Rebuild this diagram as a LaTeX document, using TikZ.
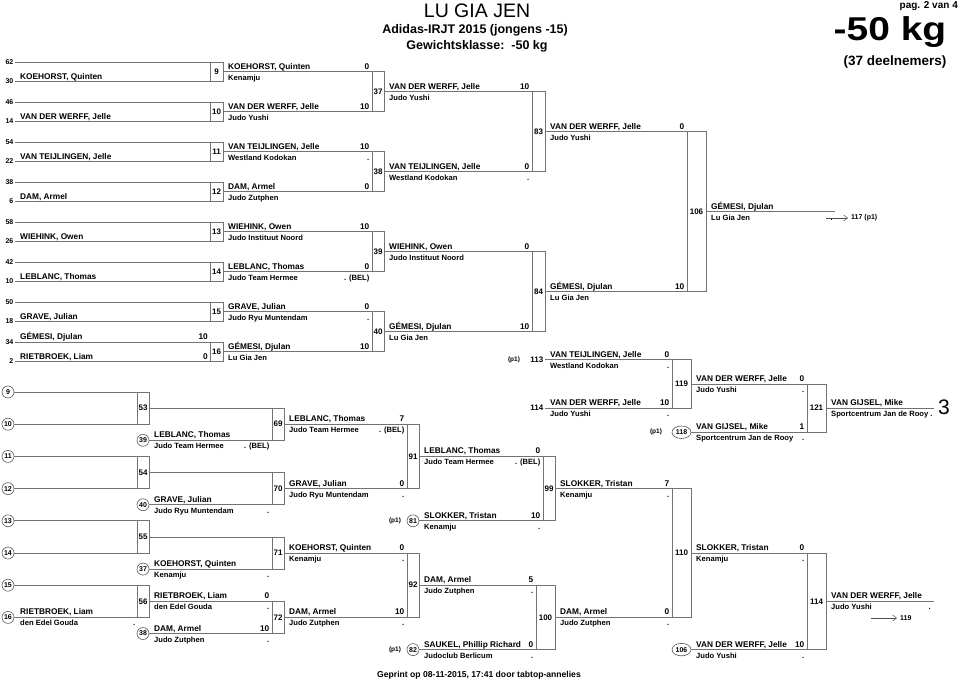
\documentclass[tikz,border=0pt]{standalone}
\usepackage{fontspec}
\setmainfont{Liberation Sans}
\usetikzlibrary{arrows.meta,shapes.geometric}
\tikzset{
  ln/.style={draw=black!55, line width=0.75pt},
  nm/.style={font=\fontsize{8.3}{9}\selectfont\bfseries, anchor=base west, inner sep=0pt},
  cl/.style={font=\fontsize{7.6}{9}\selectfont\bfseries, anchor=base west, inner sep=0pt},
  sc/.style={font=\fontsize{8.3}{9}\selectfont\bfseries, anchor=base east, inner sep=0pt},
  dt/.style={font=\fontsize{7.6}{9}\selectfont\bfseries, anchor=base east, inner sep=0pt},
  mn/.style={font=\fontsize{8}{9}\selectfont\bfseries, inner sep=0pt},
  sd/.style={font=\fontsize{7}{8}\selectfont\bfseries, anchor=east, inner sep=0pt},
  cn/.style={circle, draw=black!65, line width=0.6pt, minimum size=12pt, inner sep=0pt, font=\fontsize{7}{8}\selectfont\bfseries},
  ov/.style={ellipse, draw=black!65, line width=0.6pt, minimum width=19pt, minimum height=12.5pt, inner sep=0pt, font=\fontsize{7}{8}\selectfont\bfseries},
  pp/.style={font=\fontsize{6.5}{8}\selectfont\bfseries, inner sep=0pt},
  arr/.style={draw=black!70, line width=0.5pt, -{Straight Barb[length=4pt,width=6pt]}},
}
% x0, box left, box right, y, name, club, score, dot
\newcommand\BEnt[8]{%
  \draw[ln] (#1,#4) -- (#3,#4);
  \node[nm] at ({#1+5},{#4-2.5}) {#5};
  \node[cl] at ({#1+5},{#4+8.5}) {#6};
  \node[sc] at ({#2-2.5},{#4-2.5}) {#7};
  \node[dt] at ({#2-2.5},{#4+8.5}) {#8};
}
\newcommand\BBox[5]{%
  \draw[ln] (#1,#3) rectangle (#2,#4);
  \node[mn] at ({(#1+#2)/2},{(#3+#4)/2}) {#5};
}
% top, seedT, seedB, nameT, nameB, scoreT, scoreB, label
\newcommand\BRone[8]{%
  \draw[ln] (15,#1) -- (223,#1);
  \draw[ln] (15,{#1+19.5}) -- (223,{#1+19.5});
  \draw[ln] (210,#1) -- (210,{#1+19.5});
  \draw[ln] (223,#1) -- (223,{#1+19.5});
  \node[sd] at (13.5,#1) {#2};
  \node[sd] at (13.5,{#1+19.5}) {#3};
  \node[nm] at (20,{#1-2.5}) {#4};
  \node[nm] at (20,{#1+17}) {#5};
  \node[sc] at (208,{#1-2.5}) {#6};
  \node[sc] at (208,{#1+17}) {#7};
  \node[mn] at (216.5,{#1+9.75}) {#8};
}
\begin{document}
\begin{tikzpicture}[x=1pt,y=-1pt]
\fill[white] (0,0) rectangle (960,683);
\useasboundingbox (0,0) rectangle (960,683);

% header
\node[font=\fontsize{19.5}{22}\selectfont] (title) at (477,11) {LU GIA JEN};
\node[font=\fontsize{12.5}{14}\selectfont\bfseries] (sub1) at (475,30) {Adidas-IRJT 2015 (jongens -15)};
\node[font=\fontsize{12.5}{14}\selectfont\bfseries] (sub2) at (477,46) {Gewichtsklasse:\ \ -50 kg};
\node[font=\fontsize{10}{12}\selectfont\bfseries, anchor=east, inner sep=0pt] (pag) at (958,6) {pag. 2 van 4};
\node[font=\fontsize{33}{36}\selectfont\bfseries, inner sep=0pt] (kg) at (890,32) {\scalebox{1.18}[1]{-50 kg}};
\node[font=\fontsize{13.5}{15}\selectfont\bfseries, inner sep=0pt] (deel) at (895,62) {(37 deelnemers)};
\node[font=\fontsize{8.6}{10}\selectfont\bfseries] (foot) at (479,675) {Geprint op 08-11-2015, 17:41 door tabtop-annelies};

% ===== main bracket, round 1
\BRone{62}{62}{30}{}{KOEHORST, Quinten}{}{}{9}
\BRone{102}{46}{14}{}{VAN DER WERFF, Jelle}{}{}{10}
\BRone{142}{54}{22}{}{VAN TEIJLINGEN, Jelle}{}{}{11}
\BRone{182}{38}{6}{}{DAM, Armel}{}{}{12}
\BRone{222}{58}{26}{}{WIEHINK, Owen}{}{}{13}
\BRone{262}{42}{10}{}{LEBLANC, Thomas}{}{}{14}
\BRone{302}{50}{18}{}{GRAVE, Julian}{}{}{15}
\BRone{342}{34}{2}{GÉMESI, Djulan}{RIETBROEK, Liam}{10}{0}{16}

% round 2
\BEnt{223}{372}{384}{71.75}{KOEHORST, Quinten}{Kenamju}{0}{}
\BEnt{223}{372}{384}{111.75}{VAN DER WERFF, Jelle}{Judo Yushi}{10}{}
\BEnt{223}{372}{384}{151.75}{VAN TEIJLINGEN, Jelle}{Westland Kodokan}{10}{.}
\BEnt{223}{372}{384}{191.75}{DAM, Armel}{Judo Zutphen}{0}{}
\BEnt{223}{372}{384}{231.75}{WIEHINK, Owen}{Judo Instituut Noord}{10}{}
\BEnt{223}{372}{384}{271.75}{LEBLANC, Thomas}{Judo Team Hermee}{0}{. (BEL)}
\BEnt{223}{372}{384}{311.75}{GRAVE, Julian}{Judo Ryu Muntendam}{0}{.}
\BEnt{223}{372}{384}{351.75}{GÉMESI, Djulan}{Lu Gia Jen}{10}{}
\BBox{372}{384}{71.75}{111.75}{37}
\BBox{372}{384}{151.75}{191.75}{38}
\BBox{372}{384}{231.75}{271.75}{39}
\BBox{372}{384}{311.75}{351.75}{40}

% round 3
\BEnt{384}{532}{545}{91.75}{VAN DER WERFF, Jelle}{Judo Yushi}{10}{}
\BEnt{384}{532}{545}{171.75}{VAN TEIJLINGEN, Jelle}{Westland Kodokan}{0}{.}
\BEnt{384}{532}{545}{251.75}{WIEHINK, Owen}{Judo Instituut Noord}{0}{}
\BEnt{384}{532}{545}{331.75}{GÉMESI, Djulan}{Lu Gia Jen}{10}{}
\BBox{532}{545}{91.75}{171.75}{83}
\BBox{532}{545}{251.75}{331.75}{84}

% round 4
\BEnt{545}{687}{706}{131.75}{VAN DER WERFF, Jelle}{Judo Yushi}{0}{}
\BEnt{545}{687}{706}{291.75}{GÉMESI, Djulan}{Lu Gia Jen}{10}{}
\BBox{687}{706}{131.75}{291.75}{106}
\BEnt{706}{835.5}{835}{211.75}{GÉMESI, Djulan}{Lu Gia Jen}{}{.}
\coordinate (a117s) at (826,218);
\coordinate (a117e) at (848,218);
\draw[arr] (a117s) -- (a117e);
\node[pp, anchor=west, font=\fontsize{7}{8}\selectfont\bfseries] (t117) at (851,218) {117 (p1)};

% ===== repechage upper right
\node[pp] (p113) at (514,359.8) {(p1)};
\node[mn, anchor=east] (n113) at (543.5,359.8) {113};
\BEnt{545}{672}{691}{359.8}{VAN TEIJLINGEN, Jelle}{Westland Kodokan}{0}{.}
\node[mn, anchor=east] (n114a) at (543.5,408.1) {114};
\BEnt{545}{672}{691}{408.1}{VAN DER WERFF, Jelle}{Judo Yushi}{10}{.}
\BBox{672}{691}{359.8}{408.1}{119}
\BEnt{691}{807}{826}{383.95}{VAN DER WERFF, Jelle}{Judo Yushi}{0}{.}
\node[ov] (c118) at (681.5,432.25) {118};
\node[pp] (p118) at (656,432.25) {(p1)};
\BEnt{691}{807}{826}{432.25}{VAN GIJSEL, Mike}{Sportcentrum Jan de Rooy}{1}{.}
\BBox{807}{826}{383.95}{432.25}{121}
\BEnt{826}{934}{934}{408.1}{VAN GIJSEL, Mike}{Sportcentrum Jan de Rooy .}{}{}
\node[font=\fontsize{21}{24}\selectfont, inner sep=0pt] (three) at (944,407) {3};

% ===== repechage lower bracket
\foreach \n/\yy in {9/392,10/424.2,11/456.4,12/488.6,13/520.8,14/553,15/585.2,16/617.4}{
  \node[cn] (c\n) at (8,\yy) {\n};
  \draw[ln] (c\n.east) -- (149,\yy);
}
\node[nm] at (20,614.9) {RIETBROEK, Liam};
\node[cl] at (20,625.9) {den Edel Gouda};
\node[dt] at (135.5,625.9) {.};
\BBox{137}{149}{392}{424.2}{53}
\BBox{137}{149}{456.4}{488.6}{54}
\BBox{137}{149}{520.8}{553}{55}
\BBox{137}{149}{585.2}{617.4}{56}

% L2
\draw[ln] (149,408.1) -- (284,408.1);
\draw[ln] (149,472.5) -- (284,472.5);
\draw[ln] (149,536.9) -- (284,536.9);
\node[cn] (c39) at (143,440.3) {39};
\node[cn] (c40) at (143,504.7) {40};
\node[cn] (c37) at (143,569.1) {37};
\node[cn] (c38) at (143,633.5) {38};
\BEnt{149}{272}{284}{440.3}{LEBLANC, Thomas}{Judo Team Hermee}{}{. (BEL)}
\BEnt{149}{272}{284}{504.7}{GRAVE, Julian}{Judo Ryu Muntendam}{}{.}
\BEnt{149}{272}{284}{569.1}{KOEHORST, Quinten}{Kenamju}{}{.}
\BEnt{149}{272}{284}{601.3}{RIETBROEK, Liam}{den Edel Gouda}{0}{.}
\BEnt{149}{272}{284}{633.5}{DAM, Armel}{Judo Zutphen}{10}{.}
\BBox{272}{284}{408.1}{440.3}{69}
\BBox{272}{284}{472.5}{504.7}{70}
\BBox{272}{284}{536.9}{569.1}{71}
\BBox{272}{284}{601.3}{633.5}{72}

% L3
\BEnt{284}{407}{419}{424.2}{LEBLANC, Thomas}{Judo Team Hermee}{7}{. (BEL)}
\BEnt{284}{407}{419}{488.6}{GRAVE, Julian}{Judo Ryu Muntendam}{0}{.}
\BEnt{284}{407}{419}{553}{KOEHORST, Quinten}{Kenamju}{0}{.}
\BEnt{284}{407}{419}{617.4}{DAM, Armel}{Judo Zutphen}{10}{.}
\BBox{407}{419}{424.2}{488.6}{91}
\BBox{407}{419}{553}{617.4}{92}

% L4
\BEnt{419}{543}{555}{456.4}{LEBLANC, Thomas}{Judo Team Hermee}{0}{. (BEL)}
\node[cn] (c81) at (413,520.8) {81};
\node[pp] (p81) at (395,520.8) {(p1)};
\BEnt{419}{543}{555}{520.8}{SLOKKER, Tristan}{Kenamju}{10}{.}
\BBox{543}{555}{456.4}{520.8}{99}
\BEnt{419}{536}{555}{585.2}{DAM, Armel}{Judo Zutphen}{5}{.}
\node[cn] (c82) at (413,649.6) {82};
\node[pp] (p82) at (395,649.6) {(p1)};
\BEnt{419}{536}{555}{649.6}{SAUKEL, Phillip Richard}{Judoclub Berlicum}{0}{.}
\BBox{536}{555}{585.2}{649.6}{100}

% L5
\BEnt{555}{672}{691}{488.6}{SLOKKER, Tristan}{Kenamju}{7}{.}
\BEnt{555}{672}{691}{617.4}{DAM, Armel}{Judo Zutphen}{0}{.}
\BBox{672}{691}{488.6}{617.4}{110}

% 114
\BEnt{691}{807}{826}{553}{SLOKKER, Tristan}{Kenamju}{0}{.}
\node[ov] (c106) at (681.5,649.6) {106};
\BEnt{691}{807}{826}{649.6}{VAN DER WERFF, Jelle}{Judo Yushi}{10}{.}
\BBox{807}{826}{553}{649.6}{114}
\BEnt{826}{933.5}{934}{601.3}{VAN DER WERFF, Jelle}{Judo Yushi}{}{.}
\coordinate (a119s) at (871,618);
\coordinate (a119e) at (897,618);
\draw[arr] (a119s) -- (a119e);
\node[anchor=west, inner sep=0pt, font=\fontsize{7}{8}\selectfont\bfseries] (t119) at (900,618) {119};
\end{tikzpicture}
\end{document}
